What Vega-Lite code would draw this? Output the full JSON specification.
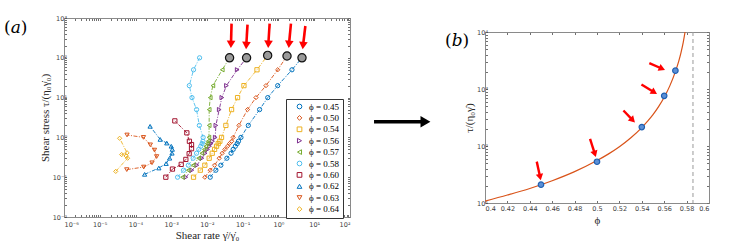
{
  "$schema": "https://vega.github.io/schema/vega-lite/v6.json",
  "padding": {"left": 3, "top": 14, "right": 5, "bottom": 0},
  "background": "white",
  "bounds": "flush",
  "center": true,
  "spacing": 0,
  "resolve": {"legend": {"color": "independent", "shape": "independent"}, "scale": {"color": "independent", "shape": "independent"}},
  "config": {
    "axis": {"grid": false, "domainColor": "#8a8a8a", "tickColor": "#707070", "tickSize": -2.5, "labelColor": "#404040", "titleColor": "#262626", "labelFont": "DejaVu Sans", "labelFontSize": 6.5, "titleFont": "Liberation Serif", "titleFontSize": 11, "titleFontWeight": "normal", "labelPadding": 3, "labelOverlap": false},
    "title": {"font": "DejaVu Serif", "fontSize": 17, "fontWeight": "normal", "color": "#000"}
  },
  "datasets": {
    "flow": [
      {"phi":"0.45","i":0,"stress":0.1,"rate":0.0123},{"phi":"0.45","i":1,"stress":0.15,"rate":0.0177},{"phi":"0.45","i":2,"stress":0.2,"rate":0.0244},{"phi":"0.45","i":3,"stress":0.3,"rate":0.036},{"phi":"0.45","i":4,"stress":0.4,"rate":0.047},{"phi":"0.45","i":5,"stress":0.5,"rate":0.054},{"phi":"0.45","i":6,"stress":0.6,"rate":0.062},{"phi":"0.45","i":7,"stress":0.7,"rate":0.07},{"phi":"0.45","i":8,"stress":0.8,"rate":0.076},{"phi":"0.45","i":9,"stress":1,"rate":0.089},{"phi":"0.45","i":10,"stress":2,"rate":0.143},{"phi":"0.45","i":11,"stress":5,"rate":0.296},{"phi":"0.45","i":12,"stress":10,"rate":0.5},{"phi":"0.45","i":13,"stress":20,"rate":0.95},{"phi":"0.45","i":14,"stress":50,"rate":2.38},{"phi":"0.45","i":15,"stress":100,"rate":4.54},
      {"phi":"0.50","i":0,"stress":0.1,"rate":0.0087},{"phi":"0.50","i":1,"stress":0.15,"rate":0.0123},{"phi":"0.50","i":2,"stress":0.2,"rate":0.0163},{"phi":"0.50","i":3,"stress":0.3,"rate":0.022},{"phi":"0.50","i":4,"stress":0.4,"rate":0.0266},{"phi":"0.50","i":5,"stress":0.5,"rate":0.0316},{"phi":"0.50","i":6,"stress":0.6,"rate":0.0376},{"phi":"0.50","i":7,"stress":0.7,"rate":0.0427},{"phi":"0.50","i":8,"stress":0.8,"rate":0.049},{"phi":"0.50","i":9,"stress":1,"rate":0.054},{"phi":"0.50","i":10,"stress":2,"rate":0.078},{"phi":"0.50","i":11,"stress":5,"rate":0.136},{"phi":"0.50","i":12,"stress":10,"rate":0.234},{"phi":"0.50","i":13,"stress":20,"rate":0.446},{"phi":"0.50","i":14,"stress":50,"rate":0.95},{"phi":"0.50","i":15,"stress":111,"rate":1.73},
      {"phi":"0.54","i":0,"stress":0.1,"rate":0.0042},{"phi":"0.54","i":1,"stress":0.15,"rate":0.0065},{"phi":"0.54","i":2,"stress":0.2,"rate":0.0087},{"phi":"0.54","i":3,"stress":0.3,"rate":0.0115},{"phi":"0.54","i":4,"stress":0.4,"rate":0.014},{"phi":"0.54","i":5,"stress":0.5,"rate":0.0163},{"phi":"0.54","i":6,"stress":0.6,"rate":0.0185},{"phi":"0.54","i":7,"stress":0.7,"rate":0.0206},{"phi":"0.54","i":8,"stress":0.8,"rate":0.0229},{"phi":"0.54","i":9,"stress":1,"rate":0.0255},{"phi":"0.54","i":10,"stress":2,"rate":0.0337},{"phi":"0.54","i":11,"stress":5,"rate":0.0487},{"phi":"0.54","i":12,"stress":10,"rate":0.0716},{"phi":"0.54","i":13,"stress":20,"rate":0.108},{"phi":"0.54","i":14,"stress":50,"rate":0.25},{"phi":"0.54","i":15,"stress":115,"rate":0.497},
      {"phi":"0.56","i":0,"stress":0.1,"rate":0.00256},{"phi":"0.56","i":1,"stress":0.15,"rate":0.00377},{"phi":"0.56","i":2,"stress":0.2,"rate":0.0052},{"phi":"0.56","i":3,"stress":0.3,"rate":0.0072},{"phi":"0.56","i":4,"stress":0.4,"rate":0.0089},{"phi":"0.56","i":5,"stress":0.5,"rate":0.0104},{"phi":"0.56","i":6,"stress":0.6,"rate":0.0118},{"phi":"0.56","i":7,"stress":0.7,"rate":0.0131},{"phi":"0.56","i":8,"stress":0.8,"rate":0.0143},{"phi":"0.56","i":9,"stress":1,"rate":0.017},{"phi":"0.56","i":10,"stress":2,"rate":0.0177},{"phi":"0.56","i":11,"stress":5,"rate":0.022},{"phi":"0.56","i":12,"stress":10,"rate":0.026},{"phi":"0.56","i":13,"stress":20,"rate":0.035},{"phi":"0.56","i":14,"stress":50,"rate":0.07},{"phi":"0.56","i":15,"stress":100,"rate":0.128},
      {"phi":"0.57","i":0,"stress":0.1,"rate":0.00206},{"phi":"0.57","i":1,"stress":0.15,"rate":0.00298},{"phi":"0.57","i":2,"stress":0.2,"rate":0.0041},{"phi":"0.57","i":3,"stress":0.3,"rate":0.0058},{"phi":"0.57","i":4,"stress":0.4,"rate":0.0072},{"phi":"0.57","i":5,"stress":0.5,"rate":0.0084},{"phi":"0.57","i":6,"stress":0.6,"rate":0.0093},{"phi":"0.57","i":7,"stress":0.7,"rate":0.0101},{"phi":"0.57","i":8,"stress":0.8,"rate":0.0108},{"phi":"0.57","i":9,"stress":1,"rate":0.0113},{"phi":"0.57","i":10,"stress":2,"rate":0.0115},{"phi":"0.57","i":11,"stress":5,"rate":0.0115},{"phi":"0.57","i":12,"stress":10,"rate":0.0123},{"phi":"0.57","i":13,"stress":20,"rate":0.0146},{"phi":"0.57","i":14,"stress":50,"rate":0.0267},{"phi":"0.57","i":15,"stress":100,"rate":0.0428},
      {"phi":"0.58","i":0,"stress":0.1,"rate":0.0015},{"phi":"0.58","i":1,"stress":0.15,"rate":0.0022},{"phi":"0.58","i":2,"stress":0.2,"rate":0.003},{"phi":"0.58","i":3,"stress":0.3,"rate":0.0041},{"phi":"0.58","i":4,"stress":0.4,"rate":0.0051},{"phi":"0.58","i":5,"stress":0.5,"rate":0.0059},{"phi":"0.58","i":6,"stress":0.6,"rate":0.0067},{"phi":"0.58","i":7,"stress":0.7,"rate":0.0073},{"phi":"0.58","i":8,"stress":0.8,"rate":0.0077},{"phi":"0.58","i":9,"stress":1,"rate":0.0078},{"phi":"0.58","i":10,"stress":2,"rate":0.0061},{"phi":"0.58","i":11,"stress":5,"rate":0.0051},{"phi":"0.58","i":12,"stress":10,"rate":0.0038},{"phi":"0.58","i":13,"stress":20,"rate":0.0032},{"phi":"0.58","i":14,"stress":50,"rate":0.0042},{"phi":"0.58","i":15,"stress":100,"rate":0.0062},
      {"phi":"0.60","i":0,"stress":0.1,"rate":0.000705},{"phi":"0.60","i":1,"stress":0.16,"rate":0.00108},{"phi":"0.60","i":2,"stress":0.21,"rate":0.0019},{"phi":"0.60","i":3,"stress":0.28,"rate":0.00256},{"phi":"0.60","i":4,"stress":0.39,"rate":0.00317},{"phi":"0.60","i":5,"stress":0.52,"rate":0.00369},{"phi":"0.60","i":6,"stress":0.66,"rate":0.00369},{"phi":"0.60","i":7,"stress":0.8,"rate":0.00322},{"phi":"0.60","i":8,"stress":1.3,"rate":0.00273},{"phi":"0.60","i":9,"stress":2.6,"rate":0.00126},
      {"phi":"0.62","i":0,"stress":0.118,"rate":0.00018},{"phi":"0.62","i":1,"stress":0.17,"rate":0.00045},{"phi":"0.62","i":2,"stress":0.22,"rate":0.00072},{"phi":"0.62","i":3,"stress":0.3,"rate":0.0009},{"phi":"0.62","i":4,"stress":0.4,"rate":0.00105},{"phi":"0.62","i":5,"stress":0.5,"rate":0.00107},{"phi":"0.62","i":6,"stress":0.6,"rate":0.001},{"phi":"0.62","i":7,"stress":0.72,"rate":0.00075},{"phi":"0.62","i":8,"stress":0.89,"rate":0.00049},{"phi":"0.62","i":9,"stress":1.9,"rate":0.000256},
      {"phi":"0.63","i":0,"stress":0.155,"rate":0.000057},{"phi":"0.63","i":1,"stress":0.18,"rate":0.00017},{"phi":"0.63","i":2,"stress":0.23,"rate":0.00029},{"phi":"0.63","i":3,"stress":0.33,"rate":0.00039},{"phi":"0.63","i":4,"stress":0.48,"rate":0.00034},{"phi":"0.63","i":5,"stress":0.65,"rate":0.00026},{"phi":"0.63","i":6,"stress":1.0,"rate":0.000167},{"phi":"0.63","i":7,"stress":1.15,"rate":0.000058},
      {"phi":"0.64","i":0,"stress":0.14,"rate":0.000028},{"phi":"0.64","i":1,"stress":0.3,"rate":0.00006},{"phi":"0.64","i":2,"stress":0.34,"rate":0.000055},{"phi":"0.64","i":3,"stress":0.37,"rate":0.000041},{"phi":"0.64","i":4,"stress":0.41,"rate":0.000058},{"phi":"0.64","i":5,"stress":0.95,"rate":0.000036}
    ],
    "jammed": [
      {"stress":100,"rate":0.0428},{"stress":100,"rate":0.128},{"stress":115,"rate":0.497},{"stress":111,"rate":1.73},{"stress":100,"rate":4.54}
    ],
    "arrowsA": [
      {"rt":0.0486,"st":721,"rh":0.047,"sh":235,"dir":181.5},
      {"rt":0.136,"st":679,"rh":0.126,"sh":218,"dir":183},
      {"rt":0.565,"st":721,"rh":0.522,"sh":235,"dir":183},
      {"rt":2.23,"st":721,"rh":1.98,"sh":235,"dir":184.5},
      {"rt":5.64,"st":630,"rh":4.9,"sh":218,"dir":185.5}
    ],
    "viscosity": [
      {"phi":0.45,"eta":21},{"phi":0.5,"eta":53},{"phi":0.54,"eta":215},{"phi":0.56,"eta":760},{"phi":0.57,"eta":2100}
    ],
    "fit": [
      {"phi":0.4,"eta":10.8},{"phi":0.42,"eta":13.8},{"phi":0.44,"eta":18},{"phi":0.46,"eta":24.6},{"phi":0.48,"eta":35.5},{"phi":0.5,"eta":55.5},{"phi":0.51,"eta":72},{"phi":0.52,"eta":97},{"phi":0.53,"eta":138},{"phi":0.54,"eta":210},{"phi":0.545,"eta":270},{"phi":0.55,"eta":355},{"phi":0.555,"eta":490},{"phi":0.56,"eta":716},{"phi":0.565,"eta":1135},{"phi":0.57,"eta":2020},{"phi":0.573,"eta":3090},{"phi":0.575,"eta":4365},{"phi":0.577,"eta":6600},{"phi":0.5786,"eta":10000},{"phi":0.5795,"eta":13200}
    ],
    "arrowsB": [
      {"pt":0.4462,"et":53.2,"ph":0.449,"eh":29.7,"dir":167.7},
      {"pt":0.4938,"et":133,"ph":0.4978,"eh":75.9,"dir":162},
      {"pt":0.5236,"et":419,"ph":0.5312,"eh":293,"dir":136},
      {"pt":0.5397,"et":1200,"ph":0.5503,"eh":896,"dir":121.3},
      {"pt":0.5467,"et":2845,"ph":0.5572,"eh":2312,"dir":112.8}
    ],
    "jamming": [{"phi":0.5857}],
    "bigArrow": [{"from":0.178,"to":0.54,"head":0.559,"level":0.479}]
  },
  "hconcat": [
    {
      "width": 286,
      "height": 199,
      "view": {"stroke": "#8a8a8a"},
      "title": {"text": "(𝑎)", "anchor": "start", "frame": "group", "orient": "top", "dx": -60, "dy": 22, "offset": 0},
      "resolve": {"axis": {"x": "independent", "y": "independent"}},
      "layer": [
        {
          "data": {"name": "flow"},
          "mark": {"type": "line", "strokeDash": [4, 1.5, 1, 1.5], "strokeWidth": 0.9},
          "encoding": {
            "x": {"field": "rate", "type": "quantitative", "scale": {"type": "log", "domain": [0.000001, 100]},
              "axis": {"values": [1e-6,2e-6,3e-6,4e-6,5e-6,6e-6,7e-6,8e-6,9e-6,1e-5,2e-5,3e-5,4e-5,5e-5,6e-5,7e-5,8e-5,9e-5,1e-4,2e-4,3e-4,4e-4,5e-4,6e-4,7e-4,8e-4,9e-4,1e-3,2e-3,3e-3,4e-3,5e-3,6e-3,7e-3,8e-3,9e-3,0.01,0.02,0.03,0.04,0.05,0.06,0.07,0.08,0.09,0.1,0.2,0.3,0.4,0.5,0.6,0.7,0.8,0.9,1,2,3,4,5,6,7,8,9,10,20,30,40,50,60,70,80,90,100], "labelExpr": "abs(log(datum.value)/LN10 - round(log(datum.value)/LN10)) < 0.01 ? ('10' + (datum.value < 1 ? '⁻' : '') + ['⁰','¹','²','³','⁴','⁵','⁶','⁷','⁸','⁹'][abs(round(log(datum.value)/LN10))]) : ''", "title": "Shear rate γ̇/γ̇₀", "titlePadding": 1, "labelPadding": 7}},
            "y": {"field": "stress", "type": "quantitative", "scale": {"type": "log", "domain": [0.01, 1000]},
              "axis": {"values": [0.01,0.02,0.03,0.04,0.05,0.06,0.07,0.08,0.09,0.1,0.2,0.3,0.4,0.5,0.6,0.7,0.8,0.9,1,2,3,4,5,6,7,8,9,10,20,30,40,50,60,70,80,90,100,200,300,400,500,600,700,800,900,1000], "labelExpr": "abs(log(datum.value)/LN10 - round(log(datum.value)/LN10)) < 0.01 ? ('10' + (datum.value < 1 ? '⁻' : '') + ['⁰','¹','²','³','⁴','⁵','⁶','⁷','⁸','⁹'][abs(round(log(datum.value)/LN10))]) : ''", "title": "Shear stress τ/(η₀γ̇₀)", "titlePadding": 2, "labelPadding": 0}},
            "color": {"field": "phi", "type": "nominal",
              "scale": {"domain": ["0.45","0.50","0.54","0.56","0.57","0.58","0.60","0.62","0.63","0.64"], "range": ["#0072BD","#D95319","#EDB120","#7E2F8E","#77AC30","#4DBEEE","#A2142F","#0072BD","#D95319","#EDB120"]},
              "legend": {"orient": "none", "legendX": 222, "legendY": 81, "title": null, "padding": 3, "rowPadding": 1.4, "symbolSize": 22, "symbolStrokeWidth": 1, "labelFont": "Liberation Serif", "labelFontSize": 9, "labelColor": "#000", "strokeColor": "#333", "fillColor": "white", "labelExpr": "'ϕ = ' + datum.label", "labelOffset": 5, "symbolOffset": 6}},
            "order": {"field": "i", "type": "quantitative"}
          }
        },
        {
          "data": {"name": "flow"},
          "mark": {"type": "point", "filled": false, "strokeWidth": 1, "size": 18, "opacity": 1},
          "encoding": {
            "x": {"field": "rate", "type": "quantitative",
              "axis": {"orient": "top", "values": [1e-6,2e-6,3e-6,4e-6,5e-6,6e-6,7e-6,8e-6,9e-6,1e-5,2e-5,3e-5,4e-5,5e-5,6e-5,7e-5,8e-5,9e-5,1e-4,2e-4,3e-4,4e-4,5e-4,6e-4,7e-4,8e-4,9e-4,1e-3,2e-3,3e-3,4e-3,5e-3,6e-3,7e-3,8e-3,9e-3,0.01,0.02,0.03,0.04,0.05,0.06,0.07,0.08,0.09,0.1,0.2,0.3,0.4,0.5,0.6,0.7,0.8,0.9,1,2,3,4,5,6,7,8,9,10,20,30,40,50,60,70,80,90,100], "labels": false, "title": null}},
            "y": {"field": "stress", "type": "quantitative",
              "axis": {"orient": "right", "values": [0.01,0.02,0.03,0.04,0.05,0.06,0.07,0.08,0.09,0.1,0.2,0.3,0.4,0.5,0.6,0.7,0.8,0.9,1,2,3,4,5,6,7,8,9,10,20,30,40,50,60,70,80,90,100,200,300,400,500,600,700,800,900,1000], "labels": false, "title": null}},
            "color": {"field": "phi", "type": "nominal"},
            "shape": {"field": "phi", "type": "nominal",
              "scale": {"domain": ["0.45","0.50","0.54","0.56","0.57","0.58","0.60","0.62","0.63","0.64"], "range": ["circle","diamond","square","triangle-right","triangle-left","circle","square","triangle-up","triangle-down","diamond"]}}
          }
        },
        {
          "data": {"name": "jammed"},
          "mark": {"type": "point", "filled": true, "fill": "#9a9a9a", "stroke": "#111", "strokeWidth": 1.2, "size": 68, "opacity": 1},
          "encoding": {"x": {"field": "rate", "type": "quantitative", "axis": null}, "y": {"field": "stress", "type": "quantitative", "axis": null}}
        },
        {
          "data": {"name": "arrowsA"},
          "mark": {"type": "rule", "color": "#ff0000", "strokeWidth": 2.6},
          "encoding": {"x": {"field": "rt", "type": "quantitative", "axis": null}, "y": {"field": "st", "type": "quantitative", "axis": null}, "x2": {"field": "rh"}, "y2": {"field": "sh"}}
        },
        {
          "data": {"name": "arrowsA"},
          "mark": {"type": "point", "shape": "triangle", "filled": true, "color": "#ff0000", "size": 75, "opacity": 1},
          "encoding": {"x": {"field": "rh", "type": "quantitative", "axis": null}, "y": {"field": "sh", "type": "quantitative", "axis": null}, "angle": {"field": "dir", "type": "quantitative", "scale": null}}
        }
      ]
    },
    {
      "width": 135,
      "height": 199,
      "view": {"stroke": null},
      "data": {"name": "bigArrow"},
      "layer": [
        {
          "mark": {"type": "rule", "color": "#000", "strokeWidth": 3.5},
          "encoding": {"x": {"field": "from", "type": "quantitative", "scale": {"domain": [0, 1]}, "axis": null}, "x2": {"field": "to"}, "y": {"field": "level", "type": "quantitative", "scale": {"domain": [0, 1]}, "axis": null}}
        },
        {
          "mark": {"type": "point", "shape": "triangle-right", "filled": true, "color": "#000", "size": 130, "opacity": 1},
          "encoding": {"x": {"field": "head", "type": "quantitative"}, "y": {"field": "level", "type": "quantitative"}}
        }
      ]
    },
    {
      "width": 224,
      "height": 171,
      "view": {"stroke": "#8a8a8a"},
      "title": {"text": "(𝑏)", "anchor": "start", "frame": "group", "orient": "top", "dx": -40, "dy": 21, "offset": 0},
      "resolve": {"axis": {"x": "independent", "y": "independent"}},
      "layer": [
        {
          "data": {"name": "jamming"},
          "mark": {"type": "rule", "color": "#9a9a9a", "strokeDash": [4, 3], "strokeWidth": 1},
          "encoding": {"x": {"field": "phi", "type": "quantitative", "scale": {"domain": [0.4, 0.6]},
            "axis": {"values": [0.4,0.42,0.44,0.46,0.48,0.5,0.52,0.54,0.56,0.58,0.6], "format": "~g", "title": "ϕ", "titlePadding": 2, "labelPadding": 5}}}
        },
        {
          "data": {"name": "fit"},
          "mark": {"type": "line", "color": "#D95319", "strokeWidth": 1.2, "interpolate": "monotone", "clip": true},
          "encoding": {
            "x": {"field": "phi", "type": "quantitative", "axis": {"orient": "top", "values": [0.4,0.42,0.44,0.46,0.48,0.5,0.52,0.54,0.56,0.58,0.6], "labels": false, "title": null}},
            "y": {"field": "eta", "type": "quantitative", "scale": {"type": "log", "domain": [10, 10000]},
              "axis": {"values": [10,20,30,40,50,60,70,80,90,100,200,300,400,500,600,700,800,900,1000,2000,3000,4000,5000,6000,7000,8000,9000,10000], "labelExpr": "abs(log(datum.value)/LN10 - round(log(datum.value)/LN10)) < 0.01 ? ('10' + ['⁰','¹','²','³','⁴','⁵','⁶','⁷','⁸','⁹'][abs(round(log(datum.value)/LN10))]) : ''", "title": "τ/(η₀γ̇)", "titlePadding": 2, "labelPadding": 0}}
          }
        },
        {
          "data": {"name": "viscosity"},
          "mark": {"type": "point", "filled": true, "fill": "#5B8FD6", "stroke": "#1F5FB0", "strokeWidth": 1.2, "size": 30, "opacity": 1},
          "encoding": {"x": {"field": "phi", "type": "quantitative", "axis": null}, "y": {"field": "eta", "type": "quantitative",
            "axis": {"orient": "right", "values": [10,20,30,40,50,60,70,80,90,100,200,300,400,500,600,700,800,900,1000,2000,3000,4000,5000,6000,7000,8000,9000,10000], "labels": false, "title": null}}}
        },
        {
          "data": {"name": "arrowsB"},
          "mark": {"type": "rule", "color": "#ff0000", "strokeWidth": 2.4},
          "encoding": {"x": {"field": "pt", "type": "quantitative", "axis": null}, "y": {"field": "et", "type": "quantitative", "axis": null}, "x2": {"field": "ph"}, "y2": {"field": "eh"}}
        },
        {
          "data": {"name": "arrowsB"},
          "mark": {"type": "point", "shape": "triangle", "filled": true, "color": "#ff0000", "size": 55, "opacity": 1},
          "encoding": {"x": {"field": "ph", "type": "quantitative", "axis": null}, "y": {"field": "eh", "type": "quantitative", "axis": null}, "angle": {"field": "dir", "type": "quantitative", "scale": null}}
        }
      ]
    }
  ]
}
